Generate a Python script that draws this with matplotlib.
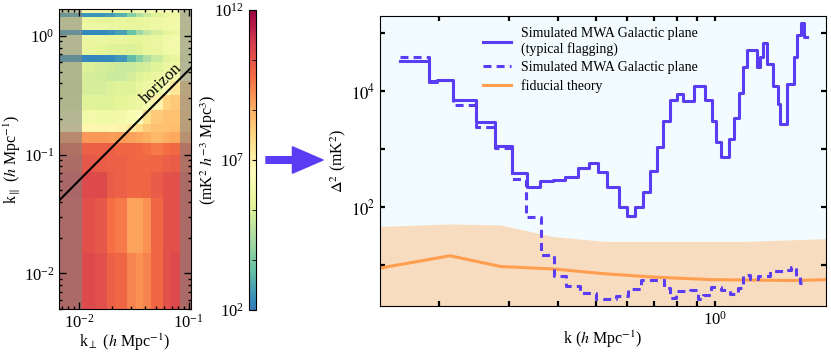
import numpy as np
import matplotlib
matplotlib.use("Agg")
import matplotlib.pyplot as plt
from matplotlib.colors import LogNorm, ListedColormap
from matplotlib.patches import FancyArrowPatch
from matplotlib.ticker import FixedLocator, NullFormatter, NullLocator, FuncFormatter, LogFormatterMathtext

plt.rcParams['font.family'] = 'serif'
plt.rcParams['font.serif'] = ['Liberation Serif', 'DejaVu Serif']
plt.rcParams['mathtext.fontset'] = 'stix'
plt.rcParams['font.size'] = 12

# --- 2D power spectrum (left panel), log10 of power per cell ---
kperp_edges = [0.0066, 0.0107, 0.0140, 0.0179, 0.0212, 0.0272, 0.0330,
               0.0385, 0.0459, 0.0584, 0.0672, 0.0828, 0.105]
kpar_edges = [0.005, 0.0148, 0.043, 0.071, 0.099, 0.125, 0.155, 0.183, 0.24,
              0.32, 0.42, 0.50, 0.60, 0.69, 0.85, 1.02, 1.12, 1.30, 1.45, 1.55, 1.69]
log_power = [
    [10.5, 10.6, 10.5, 10.1, 10.0, 9.4, 9.2, 9.4, 9.9, 10.4, 10.6, 10.5],
    [10.5, 10.5, 10.3, 9.8, 9.6, 8.9, 8.9, 9.2, 10.0, 10.4, 10.5, 10.4],
    [10.6, 10.6, 10.6, 10.2, 10.1, 9.9, 9.9, 10.0, 10.2, 10.4, 10.5, 10.4],
    [10.3, 10.3, 10.2, 10.1, 10.1, 10.0, 9.9, 9.9, 10.0, 10.1, 10.2, 10.1],
    [10.1, 10.1, 10.1, 10.1, 10.0, 10.0, 9.9, 9.8, 9.6, 9.8, 9.9, 9.9],
    [9.1, 9.1, 9.1, 9.0, 9.0, 8.9, 8.8, 8.7, 8.5, 8.7, 8.8, 8.8],
    [6.9, 6.9, 6.9, 6.9, 7.0, 7.3, 7.7, 8.1, 8.3, 8.3, 8.4, 8.3],
    [6.0, 6.0, 5.9, 5.9, 6.0, 6.2, 6.5, 7.6, 8.1, 8.3, 8.3, 8.2],
    [5.6, 5.4, 5.4, 5.4, 5.5, 5.6, 5.8, 6.1, 7.0, 7.9, 8.1, 8.1],
    [5.5, 5.2, 5.2, 5.3, 5.4, 5.4, 5.6, 5.8, 5.9, 6.4, 7.4, 7.9],
    [5.6, 5.2, 5.1, 5.0, 5.0, 5.2, 5.4, 5.5, 5.7, 5.9, 6.1, 6.6],
    [5.6, 5.3, 5.2, 5.1, 5.0, 5.0, 5.1, 5.2, 5.4, 5.7, 5.9, 6.2],
    [2.6, 2.2, 2.2, 2.3, 2.5, 3.2, 3.9, 4.5, 5.0, 5.4, 5.6, 5.8],
    [5.8, 5.6, 5.5, 5.4, 5.4, 5.3, 5.4, 5.6, 5.7, 5.9, 6.0, 6.1],
    [5.9, 5.7, 5.7, 5.6, 5.6, 5.5, 5.5, 5.6, 5.7, 5.9, 6.0, 6.1],
    [2.8, 2.3, 2.3, 2.4, 2.7, 3.4, 4.2, 4.8, 5.2, 5.5, 5.7, 5.9],
    [5.9, 5.8, 5.8, 5.7, 5.7, 5.6, 5.6, 5.7, 5.8, 5.9, 6.0, 6.1],
    [5.8, 5.6, 5.5, 5.5, 5.6, 5.5, 5.6, 5.7, 5.8, 5.9, 6.0, 6.1],
    [3.0, 2.5, 2.5, 2.6, 3.0, 3.8, 4.5, 5.0, 5.4, 5.6, 5.8, 5.9],
    [6.1, 6.1, 6.1, 6.0, 6.0, 6.0, 6.1, 6.1, 6.2, 6.3, 6.3, 6.4],
]
masked_low = [0.0066, 0.0107]
masked_high = [0.0828, 0.105]
horizon_kperp = [0.0066, 0.105]
horizon_kpar = [0.041, 0.54]

# --- 1D power spectrum (right panel) ---
flag_edges = [0.159, 0.188, 0.197, 0.217, 0.248, 0.277, 0.306, 0.334, 0.361, 0.388,
              0.417, 0.450, 0.480, 0.506, 0.533, 0.571, 0.597, 0.627, 0.658, 0.684,
              0.711, 0.740, 0.769, 0.800, 0.828, 0.886, 0.943, 0.981, 1.006, 1.034,
              1.087, 1.117, 1.151, 1.180, 1.208, 1.276, 1.300, 1.326, 1.357, 1.406,
              1.442, 1.461, 1.525, 1.586, 1.617, 1.649, 1.681, 1.714]
flag_vals = [3.3e4, 1.43e4, 1.57e4, 7.1e3, 2.97e3, 1.15e3, 395, 226, 290, 302,
             330, 481, 586, 405, 223, 101, 70, 101, 183, 432,
             1090, 3130, 7110, 9020, 6920, 1.24e4, 7110, 3130, 1360, 752,
             1520, 3490, 9500, 2.66e4, 5.16e4, 2.6e4, 3.86e4, 6.73e4, 2.96e4, 1.25e4,
             6070, 2750, 1.34e4, 3.86e4, 9.46e4, 1.49e5, 8.72e4]
noflag_edges = [0.159, 0.188, 0.197, 0.217, 0.248, 0.277, 0.306, 0.332, 0.363, 0.391,
                0.420, 0.454, 0.500, 0.562, 0.602, 0.650, 0.743, 0.768, 0.798, 0.863,
                0.906, 0.932, 0.979, 1.037, 1.090, 1.144, 1.178, 1.225, 1.285, 1.376,
                1.487, 1.561, 1.607, 1.640, 1.704]
noflag_vals = [3.96e4, 1.5e4, 1.6e4, 5900, 2410, 1050, 310, 68, 15.3, 6.65,
               4.48, 3.35, 2.64, 2.93, 3.93, 5.6, 4.08, 2.75, 3.57, 3.82,
               2.64, 3.13, 4.25, 3.82, 3.26, 4.08, 6.92, 5.83, 6.47, 7.88,
               8.2, 9.6, 6.58, 4.98]
theory_k = [0.14, 0.213, 0.286, 0.39, 0.525, 0.70, 0.98, 1.59, 1.92]
theory_vals = [8.9, 14.7, 9.6, 8.7, 7.2, 6.3, 5.7, 5.5, 5.7]
band_k = [0.14, 0.213, 0.286, 0.39, 0.525, 1.19, 1.92]
band_top = [47, 52, 50, 31.5, 26, 26, 29]

blue = '#5a3cf2'
orange = '#ff9e4f'
label_size = 11.5

fig = plt.figure(figsize=(8.31, 3.53), dpi=100)
ax1 = fig.add_axes([0.0710, 0.1246, 0.1588, 0.8499])
cax = fig.add_axes([0.2996, 0.1218, 0.0084, 0.8499])
ax2 = fig.add_axes([0.4573, 0.1331, 0.5367, 0.8215])

# left panel
cmap = ListedColormap(plt.cm.Spectral_r(np.linspace(0.08, 1.0, 256)))
mesh = ax1.pcolormesh(kperp_edges, kpar_edges, 10 ** np.array(log_power),
                      cmap=cmap, norm=LogNorm(1e2, 1e12), shading='flat')
ax1.axvspan(*masked_low, color='#808080', alpha=0.55, lw=0)
ax1.axvspan(*masked_high, color='#808080', alpha=0.55, lw=0)
ax1.plot(horizon_kperp, horizon_kpar, color='k', lw=1.5)
ax1.text(0.057, 0.40, 'horizon', rotation=44, ha='center', va='center',
         rotation_mode='anchor', fontsize=12)
ax1.set_xscale('log')
ax1.set_yscale('log')
ax1.set_xlim(kperp_edges[0], kperp_edges[-1])
ax1.set_ylim(kpar_edges[0], kpar_edges[-1])
ax1.tick_params(which='both', direction='in', top=True, right=True, width=1)
ax1.tick_params(which='major', length=5)
ax1.tick_params(which='minor', length=2.5)
ax1.set_xlabel(r'k$_\perp$ ($h$ Mpc$^{-1}$)', labelpad=0, fontsize=label_size)
ax1.set_ylabel(r'k$_{\parallel}$ ($h$ Mpc$^{-1}$)', labelpad=1, fontsize=label_size)

cb = fig.colorbar(mesh, cax=cax)
cb.set_ticks([1e2, 1e7, 1e12])
cb.ax.yaxis.set_minor_locator(FixedLocator([10 ** (2 + i * 10 / 6) for i in range(7)]))
cb.ax.tick_params(which='both', direction='in', left=False, right=True,
                  labelleft=True, labelright=False, length=3)
fig.text(209 / 831, 1 - 150 / 353, r'(mK$^2$ $h^{-3}$ Mpc$^3$)', rotation=90,
         ha='center', va='center', fontsize=label_size)

# arrow between panels
fig.add_artist(FancyArrowPatch((266 / 831, 1 - 160 / 353), (323 / 831, 1 - 160 / 353),
                               transform=fig.transFigure, color=blue,
                               arrowstyle='simple,head_length=22,head_width=19,tail_width=4.8',
                               mutation_scale=1, shrinkA=0, shrinkB=0))

# right panel
ax2.set_facecolor('#f2fbfd')
ax2.fill_between(band_k, band_top, 1.0, color='#f8dcc0', lw=0)
ax2.step(flag_edges, flag_vals + [flag_vals[-1]], where='post', color=blue, lw=2.2,
         label='Simulated MWA Galactic plane\n(typical flagging)', zorder=3)
ax2.step(noflag_edges, noflag_vals + [noflag_vals[-1]], where='post', color=blue, lw=2.2,
         linestyle=(0, (2.6, 1.7)), label='Simulated MWA Galactic plane', zorder=3)
ax2.plot(theory_k, theory_vals, color=orange, lw=2.2, label='fiducial theory', zorder=2)
ax2.set_xscale('log')
ax2.set_yscale('log')
ax2.set_xlim(0.1415, 1.912)
ax2.set_ylim(2.0, 2.0e5)
ax2.yaxis.set_major_locator(FixedLocator([1e1, 1e2, 1e3, 1e4, 1e5]))
ax2.yaxis.set_major_formatter(FuncFormatter(
    lambda v, p: r'$10^{%d}$' % round(np.log10(v)) if round(np.log10(v)) in (2, 4) else ''))
ax2.yaxis.set_minor_locator(NullLocator())
ax2.xaxis.set_major_formatter(LogFormatterMathtext())
ax2.xaxis.set_minor_formatter(NullFormatter())
ax2.tick_params(which='both', direction='in', top=True, right=True, length=3.5, width=1.6)
ax2.set_xlabel(r'k ($h$ Mpc$^{-1}$)', labelpad=0, fontsize=label_size)
ax2.set_ylabel(r'$\Delta^2$ (mK$^2$)', labelpad=2, fontsize=label_size)
ax2.legend(loc='upper left', bbox_to_anchor=(0.231, 0.962), frameon=False,
           borderpad=0, borderaxespad=0, handlelength=2.0, handletextpad=0.7,
           labelspacing=0.35, fontsize=10)

fig.savefig('out.png', dpi=100)
